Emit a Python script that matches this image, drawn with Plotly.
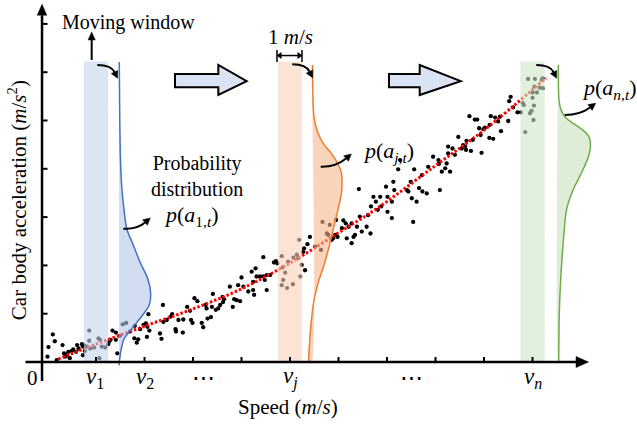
import math
import plotly.graph_objects as go

# ---------------- data (speed in tick units, acceleration in tick units) ----------------
speed_a = [0.00,0.11,0.15,0.19,0.31,0.34,0.38,0.36,0.41,0.46,0.50,0.43,0.53,0.59,0.61,0.64,0.71,0.73,0.76,0.81,
           0.77,0.73,0.86,0.86,0.88,0.96,1.05,1.08,1.07,1.12,1.19,1.25,1.27,1.34,1.30,1.41,1.44,1.41,1.49,1.55,
           1.62,1.70,1.80,1.79,1.84,1.87,1.91,1.98,2.03,2.08,2.06,0.02,2.10,2.05]
accel_a = [0.11,0.57,0.43,0.04,0.35,0.18,0.16,0.11,0.13,0.08,0.23,0.21,0.26,0.21,0.35,0.28,0.37,0.32,0.34,0.32,
           0.23,0.14,0.65,0.44,0.28,0.30,0.49,0.46,0.08,0.32,0.30,0.37,0.42,0.65,0.46,0.61,0.18,0.46,0.54,0.78,
           0.81,0.63,0.75,0.49,0.40,0.47,0.68,0.77,0.80,0.99,0.73,0.31,0.65,0.52]
speed_b = [2.38,2.39,2.32,2.35,2.46,2.54,2.57,2.64,2.65,2.70,2.79,2.80,2.88,2.94,2.96,2.99,3.03,3.09,3.18,3.21,
           3.26,3.28,3.30,3.37,3.41,3.39,3.47,3.52,3.56,3.61,3.64,3.62,3.76,3.82,3.85,3.90,3.97,3.93,4.00,4.04,
           4.14,4.21,4.24,4.26,4.31]
accel_b = [1.18,0.83,0.59,0.48,0.87,0.94,0.99,0.68,0.63,0.87,0.61,0.88,1.14,1.06,0.87,0.81,1.32,1.26,0.81,0.72,
           1.18,1.11,0.90,0.93,1.41,1.14,1.08,1.11,1.18,1.35,1.30,1.24,1.56,1.14,1.30,1.28,1.26,1.59,1.75,1.56,
           1.46,1.87,1.49,1.39,1.77]
speed_c = [4.29,4.24,4.45,4.38,4.45,4.48,4.52,4.52,4.59,4.67,4.71,4.74,4.83,4.85,4.86,4.83,4.90,4.96,4.94,5.07,
           5.06,5.14,5.17,5.19,5.21,5.24,5.27,5.29,5.31,5.36,5.41,5.52,5.64,5.67,5.76,5.79,5.82,5.86,5.89,5.93,
           5.95,5.98,6.07,6.10,6.15,6.17,6.21,6.27,6.31,6.42,6.38]
accel_c = [1.94,1.66,2.17,1.77,1.77,1.70,1.49,1.80,1.80,2.06,2.09,2.04,2.19,1.96,1.70,1.59,1.85,2.08,1.53,2.16,
           1.61,2.22,2.15,2.53,1.77,2.01,2.28,2.35,1.90,2.44,2.59,2.39,2.32,2.90,2.66,2.63,2.84,2.53,2.56,2.63,
           2.94,2.59,2.77,2.93,2.87,2.56,2.80,2.46,2.59,3.58,2.80]
speed_d = [6.67,6.72,6.77,6.44,6.58,6.48,6.66,6.61,6.81,6.88,6.86,6.98,7.01,7.01,7.10,7.13,7.27,6.34,6.27,7.23,
           7.56,7.15,7.41,7.44,7.49,7.51,7.61,7.66,7.72,7.73,7.82,7.85,7.95,8.06,8.07,8.09,8.13,8.20,8.23,8.26,
           8.26,8.30,8.35,7.54,7.10]
accel_d = [3.22,3.42,3.32,3.01,2.80,2.70,2.66,3.04,3.15,3.22,3.42,3.63,3.42,3.11,3.32,3.73,4.18,2.63,2.87,3.99,
           3.99,3.56,3.56,3.53,3.73,3.39,3.32,3.60,3.87,3.53,3.49,4.04,4.25,4.18,4.10,3.56,3.94,4.01,4.11,4.46,
           4.32,3.94,4.42,2.90,2.98]
speed_e = [8.40,8.47,8.54,8.57,8.61,8.64,8.63,8.70,8.73,8.77,8.81,8.86,8.90,8.95,8.93,8.99,9.02,9.11,9.12,9.14,
           9.19,9.23,9.29,9.33,9.35,9.50,9.52,9.55,9.60,9.69,9.76,9.80,9.82,9.85,9.91,9.95,9.98,10.00,10.02,10.03,
           10.05,10.04,10.09,10.15,10.19,10.21,10.21,10.00]
accel_e = [4.29,4.66,4.42,4.49,4.46,4.58,4.39,5.09,4.37,4.60,5.02,5.02,4.84,4.33,4.70,4.82,4.85,4.64,4.91,5.09,
           4.62,5.06,4.98,5.08,4.78,4.99,5.40,5.49,5.27,5.17,5.17,5.36,5.32,4.76,5.86,5.15,5.20,5.47,5.01,5.31,
           5.86,5.70,5.58,5.68,5.84,5.67,5.87,5.58]

fit_speed = [0.22, 1.00, 1.97, 3.00, 3.99, 5.00, 5.99, 6.81, 7.99, 9.00, 10.28]
fit_accel = [0.06, 0.37, 0.73, 1.10, 1.51, 2.05, 2.67, 3.19, 4.06, 4.80, 5.88]

window_centers = [1.0, 5.0, 10.0]
window_half = 0.25
window_top = 6.22

dist_base = [1.474, 5.443, 10.526]
blue_acc = [6.21, 5.01, 4.18, 3.56, 3.11, 2.76, 2.42, 2.07, 1.73, 1.41, 1.17, 0.90, 0.69, 0.48, 0.21, -0.07]
blue_den = [0.006, 0.016, 0.031, 0.062, 0.109, 0.159, 0.295, 0.433, 0.592, 0.654, 0.619, 0.433, 0.262, 0.103, 0.035, 0.0]
orng_acc = [6.15, 5.07, 4.74, 4.53, 4.33, 4.12, 3.91, 3.71, 3.50, 3.11, 2.73, 2.38, 2.01, 1.70, 1.28, 0.66, -0.02]
orng_den = [0.025, 0.052, 0.134, 0.237, 0.402, 0.536, 0.619, 0.629, 0.619, 0.536, 0.443, 0.361, 0.258, 0.155, 0.052, -0.021, -0.062]
gren_acc = [6.15, 5.42, 5.22, 5.05, 4.93, 4.80, 4.66, 4.49, 4.29, 3.98, 3.56, 3.15, 2.42, 1.72, 1.04, 0.0]
gren_den = [0.006, 0.021, 0.062, 0.165, 0.330, 0.515, 0.639, 0.670, 0.639, 0.515, 0.309, 0.175, 0.103, 0.056, 0.027, 0.014]

x_ticks = [1, 2, 3, 4, 5, 6, 7, 8, 9, 10]
y_ticks = [1, 2, 3, 4, 5, 6, 7]
tick_label_pos = [0.98, 2.01, 3.21, 5.00, 7.50, 10.01]
tick_label_txt = ["<i>v</i><sub>1</sub>", "<i>v</i><sub>2</sub>", "⋯",
                  "<i>v</i><sub><i>j</i></sub>", "⋯", "<i>v</i><sub><i>n</i></sub>"]

speed = speed_a + speed_b + speed_c + speed_d + speed_e
accel = accel_a + accel_b + accel_c + accel_d + accel_e

# ---------------- styling ----------------
FONT = "Liberation Serif"
SX, SY = 48.5, 48.3        # px per data unit (for arrowhead geometry)
XR = [-0.9794, 12.1546]
YR = [-1.2836, 7.4948]

win_fill = ["rgba(197,213,233,0.6)", "rgba(248,210,185,0.6)", "rgba(207,230,200,0.6)"]
dist_fill = ["rgba(180,199,231,0.6)", "rgba(245,183,140,0.6)", "rgba(207,230,200,0.7)"]
dist_line = ["#4472c4", "#ed7d31", "#70ad47"]

fig = go.Figure()

fig.add_trace(go.Scatter(x=speed, y=accel, mode="markers",
                         marker=dict(color="black", size=4.3), hoverinfo="skip"))
fig.add_trace(go.Scatter(x=fit_speed, y=fit_accel, mode="lines",
                         line=dict(color="#ff0000", width=3, dash="2.5px,2px", shape="spline"),
                         hoverinfo="skip"))

for c, col in zip(window_centers, win_fill):
    fig.add_trace(go.Scatter(x=[c - window_half, c + window_half, c + window_half, c - window_half, c - window_half],
                             y=[0, 0, window_top, window_top, 0], mode="lines", fill="toself",
                             fillcolor=col, line=dict(width=0), hoverinfo="skip"))

dists = [(blue_acc, blue_den), (orng_acc, orng_den), (gren_acc, gren_den)]
for (acc, den), b, fc, lc in zip(dists, dist_base, dist_fill, dist_line):
    xs = [b + d for d in den]
    fig.add_trace(go.Scatter(x=xs + [b, b], y=acc + [acc[-1], acc[0]], mode="lines", fill="toself",
                             fillcolor=fc, line=dict(width=0, shape="spline", smoothing=0.6), hoverinfo="skip"))
    fig.add_trace(go.Scatter(x=xs, y=acc, mode="lines",
                             line=dict(color=lc, width=1.5, shape="spline", smoothing=0.8), hoverinfo="skip"))

shapes = []

def tri(bx, by, ux, uy, length, half):
    tx, ty = bx + ux * length / SX, by + uy * length / SY
    p1 = (bx - uy * half / SX, by + ux * half / SY)
    p2 = (bx + uy * half / SX, by - ux * half / SY)
    return dict(type="path", xref="x", yref="y",
                path=f"M {tx},{ty} L {p1[0]},{p1[1]} L {p2[0]},{p2[1]} Z",
                fillcolor="black", line=dict(color="black", width=0.5))

def unit(dx, dy):
    L = math.hypot(dx, dy)
    return dx / L, dy / L

def curved_arrow(p0, c, p1, width=2.0, length=7, half=3.6):
    shapes.append(dict(type="path", xref="x", yref="y",
                       path=f"M {p0[0]},{p0[1]} Q {c[0]},{c[1]} {p1[0]},{p1[1]}",
                       line=dict(color="black", width=width)))
    ux, uy = unit((p1[0] - c[0]) * SX, (p1[1] - c[1]) * SY)
    shapes.append(tri(p1[0], p1[1], ux, uy, length, half))

def straight_arrow(p0, p1, width=2.0, length=7, half=3.6):
    shapes.append(dict(type="line", xref="x", yref="y", x0=p0[0], y0=p0[1], x1=p1[0], y1=p1[1],
                       line=dict(color="black", width=width)))
    ux, uy = unit((p1[0] - p0[0]) * SX, (p1[1] - p0[1]) * SY)
    shapes.append(tri(p1[0], p1[1], ux, uy, length, half))

# axes
straight_arrow((-0.454, 0), (10.897, 0), width=2.5, length=12.5, half=5.5)
straight_arrow((-0.113, -0.393), (-0.113, 7.18), width=2.5, length=11, half=4.8)
for t in x_ticks:
    shapes.append(dict(type="line", xref="x", yref="y", x0=t, x1=t, y0=0, y1=5 / SY,
                       line=dict(color="black", width=2)))
for t in y_ticks:
    shapes.append(dict(type="line", xref="x", yref="y", x0=-0.113, x1=-0.113 + 5.5 / SX, y0=t, y1=t,
                       line=dict(color="black", width=2)))

# block arrows
for x0, xh, xt in [(2.629, 3.522, 4.107), (7.041, 7.674, 8.520)]:
    shapes.append(dict(type="path", xref="x", yref="y",
                       path=(f"M {x0},5.963 L {xh},5.963 L {xh},6.149 L {xt},5.814 L {xh},5.528 "
                             f"L {xh},5.687 L {x0},5.687 Z"),
                       fillcolor="#dae3f3", line=dict(color="black", width=2)))

# small curved arrows
curved_arrow((1.027, 6.149), (1.309, 6.149), (1.381, 6.004))
curved_arrow((5.047, 6.164), (5.330, 6.159), (5.402, 6.014))
curved_arrow((10.078, 6.149), (10.361, 6.149), (10.433, 6.004))
curved_arrow((1.563, 2.760), (1.845, 2.743), (2.010, 2.888))
curved_arrow((5.633, 4.043), (5.948, 4.037), (6.155, 4.213))
curved_arrow((10.664, 5.114), (10.979, 5.114), (11.186, 5.269))
# moving window arrow
straight_arrow((0.911, 6.253), (0.911, 6.667), width=2, length=8, half=3.6)
# 1 m/s dimension
for xb in (4.732, 5.247):
    shapes.append(dict(type="line", xref="x", yref="y", x0=xb, x1=xb, y0=6.211, y1=6.460,
                       line=dict(color="black", width=1.5)))
shapes.append(dict(type="line", xref="x", yref="y", x0=4.80, x1=5.18, y0=6.345, y1=6.345,
                   line=dict(color="black", width=1.5)))
shapes.append(tri(4.82, 6.345, -1, 0, 4.5, 3))
shapes.append(tri(5.16, 6.345, 1, 0, 4.5, 3))

annotations = []
def txt(x, y, s, size=20, angle=0):
    annotations.append(dict(x=x, y=y, xref="x", yref="y", text=s, showarrow=False,
                            xanchor="center", yanchor="middle", textangle=angle,
                            font=dict(family=FONT, size=size, color="black")))

txt(1.66, 7.02, "Moving window", 20)
txt(5.0, 6.73, "1 <i>m</i>/<i>s</i>", 21)
txt(3.08, 3.86, "Probability<br>distribution", 20)
txt(2.95, 3.02, "<i>p</i>(<i>a</i><sub>1,<i>t</i></sub>)", 22)
txt(7.04, 4.35, "<i>p</i>(<i>a</i><sub><i>j</i>,<i>t</i></sub>)", 22)
txt(11.58, 5.65, "<i>p</i>(<i>a</i><sub><i>n</i>,<i>t</i></sub>)", 22)
txt(-0.30, -0.33, "0", 21)
for p, s in zip(tick_label_pos, tick_label_txt):
    txt(p, -0.33, s, 23)
txt(4.95, -0.93, "Speed (<i>m</i>/<i>s</i>)", 21)
txt(-0.63, 3.35, "Car body acceleration (<i>m</i>/<i>s</i><sup>2</sup>)", 21, angle=-90)

fig.update_layout(width=637, height=424, margin=dict(l=0, r=0, t=0, b=0, pad=0),
                  paper_bgcolor="white", plot_bgcolor="white", showlegend=False,
                  font=dict(family=FONT),
                  xaxis=dict(range=XR, visible=False, fixedrange=True),
                  yaxis=dict(range=YR, visible=False, fixedrange=True),
                  shapes=shapes, annotations=annotations)

fig.write_html("out.html", config={"displayModeBar": False})
